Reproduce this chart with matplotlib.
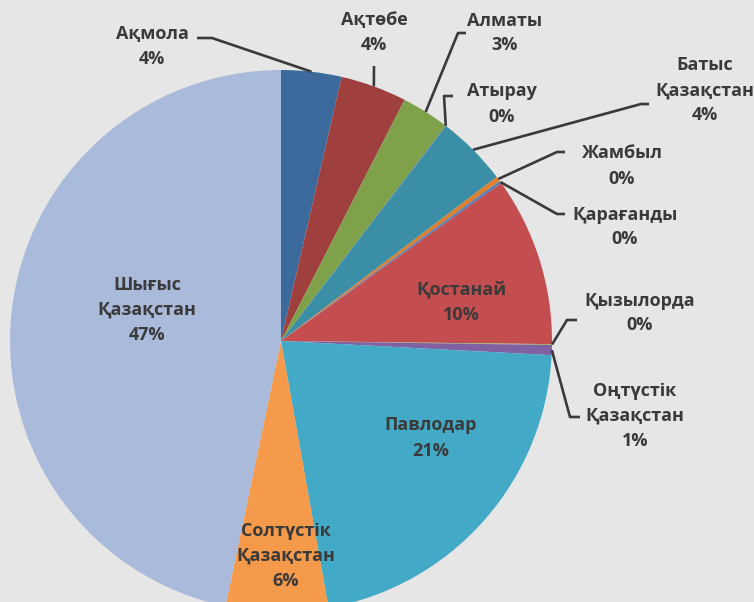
import numpy as np
import matplotlib
matplotlib.use('Agg')
from matplotlib import pyplot as plt

plt.rcParams['font.family'] = ['Open Sans', 'DejaVu Sans']

regions = ['Ақмола', 'Ақтөбе', 'Алматы', 'Атырау', 'Батыс\nҚазақстан', 'Жамбыл',
           'Қарағанды', 'Қостанай', 'Қызылорда', 'Оңтүстік\nҚазақстан', 'Павлодар',
           'Солтүстік\nҚазақстан', 'Шығыс\nҚазақстан']
shares = [3.6, 3.95, 2.86, 0.02, 4.25, 0.3, 0.15, 10.1, 0.05, 0.6, 21.4, 6.1, 46.8]
colors = ['#3d6a9c', '#a0403e', '#7fa14a', '#7d60a0', '#3a8ea6', '#dc7f2e',
          '#4c7ec2', '#c44d4f', '#9bb25a', '#8061a2', '#42a9c6', '#f5994a', '#aabada']

# label layout in pixels: text centre, then leader (elbow points) or None for inside
CX, CY, R = 281, 341, 271
label_pos = [(152, 47), (374, 33), (505, 33), (502, 104), (705, 90), (622, 166),
             (625, 227), (461, 302), (640, 313), (635, 416), (431, 438),
             (286, 556), (147, 310)]
leaders = [[(212, 38), (197, 38)],
           [(374, 66)],
           [(458, 33), (466, 33)],
           [(444, 96), (453, 96)],
           [(641, 104), (649, 104)],
           [(557, 152), (565, 152)],
           [(557, 214), (565, 214)],
           None,
           [(567, 320), (577, 320)],
           [(570, 417), (580, 417)],
           None, None, None]


def to_data(px, py):
    return (px - CX) / R, (CY - py) / R


fig = plt.figure(figsize=(7.54, 6.02), dpi=100, facecolor='#e6e6e6')
ax = fig.add_axes([0, 0, 1, 1])
ax.set_facecolor('#e6e6e6')

wedges, _ = ax.pie(shares, colors=colors, startangle=90, counterclock=False,
                   radius=1, wedgeprops=dict(linewidth=0))

total = sum(shares)
for i, w in enumerate(wedges):
    pct = round(shares[i] / total * 100)
    tx, ty = to_data(*label_pos[i])
    ax.text(tx, ty, '{}\n{}%'.format(regions[i], pct), ha='center', va='center',
            fontsize=13, fontweight='bold', color='#3a3a3a', linespacing=1.5)
    if leaders[i] is not None:
        ang = np.deg2rad((w.theta1 + w.theta2) / 2)
        xs = [np.cos(ang)]
        ys = [np.sin(ang)]
        for p in leaders[i]:
            dx, dy = to_data(*p)
            xs.append(dx)
            ys.append(dy)
        ax.plot(xs, ys, color='#3a3a3a', lw=1.9, solid_capstyle='butt')

ax.set_xlim(-CX / R, (754 - CX) / R)
ax.set_ylim(-(602 - CY) / R, CY / R)
ax.set_aspect('auto')
ax.axis('off')

fig.savefig('out.png', dpi=100, facecolor=fig.get_facecolor())
